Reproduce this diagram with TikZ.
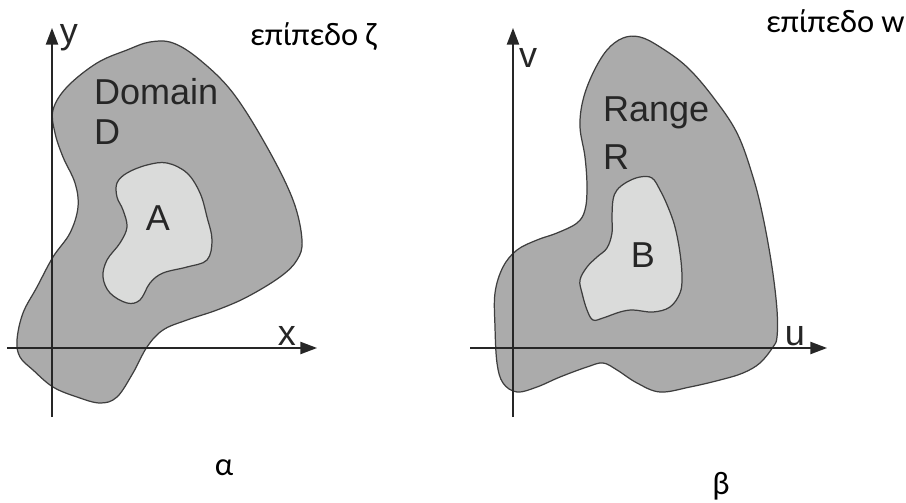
\documentclass[tikz,border=0pt]{standalone}
\usepackage{fontspec}
\setmainfont{Liberation Sans}
\newfontfamily\grfont{Carlito}
\usepackage{xcolor}
\usepackage{tikz}
\usetikzlibrary{arrows.meta,positioning,calc}

\definecolor{regiondark}{HTML}{ABABAB}
\definecolor{regionlight}{HTML}{DADBDA}
\definecolor{edgegray}{HTML}{3E3E3E}
\definecolor{inkgray}{HTML}{262626}

\tikzset{
  region/.style={draw=edgegray, line width=0.7pt, fill=regiondark},
  subregion/.style={draw=edgegray, line width=0.7pt, fill=regionlight},
  axis/.style={draw=inkgray, line width=0.8pt, -{Triangle[length=9.5pt, width=7pt]}},
  lbl/.style={inkgray, inner sep=0pt, outer sep=0pt, font=\fontsize{20.5}{22}\selectfont},
  grlbl/.style={black, inner sep=0pt, outer sep=0pt, font=\grfont\fontsize{18.5}{20}\selectfont}
}

\begin{document}
\begin{tikzpicture}[x=0.02cm, y=-0.02cm]
  \useasboundingbox (0,0) rectangle (906,503);

  % left plane: domain D with subset A
  \draw[region] plot[smooth cycle, tension=0.6] coordinates {
    (53,110) (67,87) (97,63) (127,50) (150,42) (173,43) (200,60) (233,93)
    (267,147) (293,200) (302,240) (297,260) (280,277) (247,297) (217,310)
    (187,320) (163,330) (147,347) (133,373) (117,397) (100,403) (77,397)
    (53,387) (33,370) (20,357) (17,340) (23,313) (37,287) (53,257) (70,233)
    (78,207) (75,183) (63,157) (55,133)};
  \draw[subregion] plot[smooth cycle, tension=0.6] coordinates {
    (117,183) (127,173) (147,165) (167,163) (187,173) (200,193) (207,217)
    (212,240) (207,260) (187,267) (163,273) (150,283) (140,300) (127,303)
    (110,293) (103,277) (107,260) (120,243) (127,227) (123,210) (117,197)};

  \coordinate (xs) at (7,348);
  \coordinate (xe) at (317,348);
  \coordinate (ys) at (52,417);
  \coordinate (ye) at (52,28);
  \draw[axis] (xs) -- (xe);
  \draw[axis] (ys) -- (ye);

  \node[lbl] (ylbl) at (69,38) {y};
  \node[lbl] (xlbl) at (287,336) {x};
  \node[lbl, anchor=west] (domain) at (94,92) {Domain};
  \node[lbl, anchor=west] (dlbl) at (94,132) {D};
  \node[lbl] (albl) at (158,218) {A};
  \node[grlbl, anchor=base west] (zplane) at (250,46) {επίπεδο ζ};
  \node[grlbl] (alpha) at (224,468) {α};

  % right plane: range R with subset B
  \draw[region] plot[smooth cycle, tension=0.6] coordinates {
    (583,100) (593,73) (607,50) (623,38) (640,37) (660,47) (687,67) (713,97)
    (737,133) (753,177) (763,217) (772,267) (777,310) (777,337) (773,347)
    (760,363) (743,373) (720,380) (690,387) (660,392) (637,383) (617,370)
    (603,363) (587,367) (560,377) (537,387) (517,392) (503,383) (497,363)
    (495,327) (495,293) (503,267) (517,250) (537,240) (557,233) (577,223)
    (585,210) (587,187) (585,157) (580,127)};
  \draw[subregion] plot[smooth cycle, tension=0.6] coordinates {
    (617,190) (627,182) (640,177) (652,178) (660,190) (668,207) (675,227)
    (680,253) (682,277) (680,293) (670,307) (653,312) (633,310) (620,312)
    (603,318) (593,320) (587,310) (582,293) (580,280) (587,267) (597,257)
    (607,248) (612,233) (612,217) (613,200)};

  \coordinate (us) at (470,348);
  \coordinate (ue) at (827,348);
  \coordinate (vs) at (513,417);
  \coordinate (ve) at (513,28);
  \draw[axis] (us) -- (ue);
  \draw[axis] (vs) -- (ve);

  \node[lbl] (vlbl) at (528,58) {v};
  \node[lbl] (ulbl) at (795,336) {u};
  \node[lbl, anchor=west] (range) at (603,113) {Range};
  \node[lbl, anchor=west] (rlbl) at (603,157) {R};
  \node[lbl] (blbl) at (643,255) {B};
  \node[grlbl, anchor=base west] (wplane) at (766,33) {επίπεδο w};
  \node[grlbl] (beta) at (721,486) {β};
\end{tikzpicture}
\end{document}
